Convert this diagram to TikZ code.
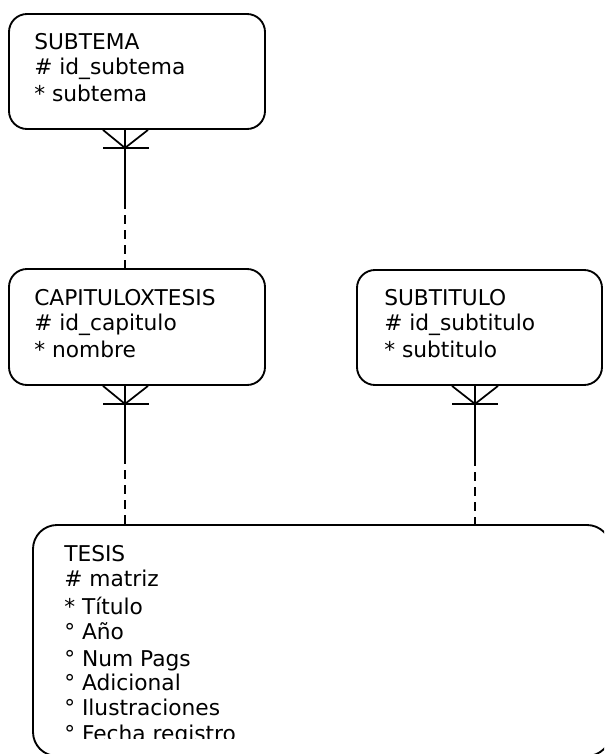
\documentclass[tikz,border=0pt]{standalone}
\usepackage{fontspec}
\setmainfont{DejaVu Sans}
\begin{document}
\begin{tikzpicture}[x=0.75pt,y=-0.75pt,
  ent/.style={draw,line width=1.4pt,rounded corners=13.5pt,inner sep=0pt},
  attr/.style={anchor=base west,inner sep=0pt,font=\fontsize{16.3pt}{19pt}\selectfont},
  rel/.style={line width=1.3pt},
  reld/.style={line width=1.3pt,dash pattern=on 6.75pt off 4.5pt}]
\clip (0,0) rectangle (604,754);
% entity boxes
\node[ent,minimum width=192pt,minimum height=86.25pt] (subtema) at (137,71.5) {};
\node[ent,minimum width=192pt,minimum height=87pt] (cap) at (137,327) {};
\node[ent,minimum width=183.75pt,minimum height=86.25pt] (subt) at (479.5,327.5) {};
\node[ent,rounded corners=18pt,minimum width=433.5pt,minimum height=173.25pt] (tesis) at (322,640.5) {};
% texts
\node[attr] (s1) at (34,49) {SUBTEMA};
\node[attr] (s2) at (34,74) {\# id\_subtema};
\node[attr] (s3) at (34,101) {* subtema};
\node[attr] (c1) at (34,305) {CAPITULOXTESIS};
\node[attr] (c2) at (34,330) {\# id\_capitulo};
\node[attr] (c3) at (34,357) {* nombre};
\node[attr] (u1) at (384,305) {SUBTITULO};
\node[attr] (u2) at (384,330) {\# id\_subtitulo};
\node[attr] (u3) at (384,357) {* subtitulo};
\begin{scope}
\clip (0,0) rectangle (604,738);
\foreach \t/\y [count=\i] in {TESIS/561,\# matriz/586,* Título/614,° Año/639,° Num Pags/666,° Adicional/690,° Ilustraciones/715,° Fecha registro/741}
  \node[attr] (t\i) at (64,\y) {\t};
\end{scope}
% relationships
\coordinate (m1) at (125,200);
\coordinate (m2) at (125,455);
\coordinate (m3) at (475,457);
\draw[rel] (m1 |- subtema.south) -- (m1);
\draw[reld] (m1) -- (m1 |- cap.north);
\draw[rel] (m1 |- subtema.south) ++(-22,0) -- ++(22,18) -- ++(23,-18);
\draw[rel] (m1 |- subtema.south) ++(-22,18) -- ++(46,0);
\draw[rel] (m2 |- cap.south) -- (m2);
\draw[reld] (m2) -- (m2 |- tesis.north);
\draw[rel] (m2 |- cap.south) ++(-22,0) -- ++(22,18) -- ++(23,-18);
\draw[rel] (m2 |- cap.south) ++(-22,18) -- ++(46,0);
\draw[rel] (m3 |- subt.south) -- (m3);
\draw[reld] (m3) -- (m3 |- tesis.north);
\draw[rel] (m3 |- subt.south) ++(-23,0) -- ++(23,18) -- ++(23,-18);
\draw[rel] (m3 |- subt.south) ++(-23,18) -- ++(46,0);
\end{tikzpicture}
\end{document}
